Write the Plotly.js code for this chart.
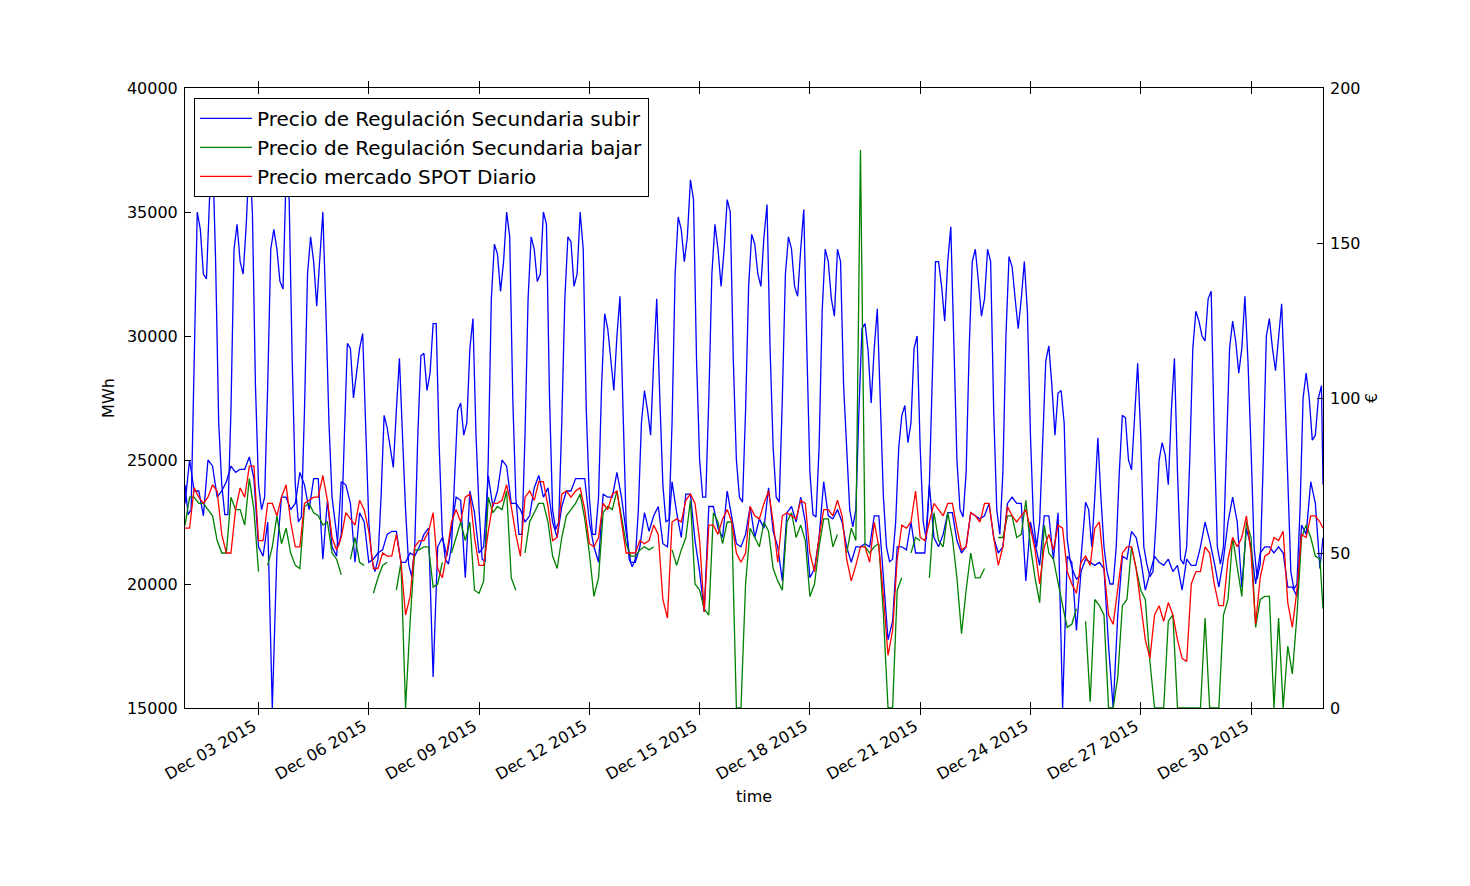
<!DOCTYPE html>
<html>
<head>
<meta charset="utf-8">
<script src="https://cdn.plot.ly/plotly-3.0.1.min.js"></script>
<style>
html,body{margin:0;padding:0;background:#ffffff;}
#chart{width:1470px;height:886px;}
</style>
</head>
<body>
<div id="chart"></div>
<script>
// ---- DATA ----
// Demand, left axis (MWh), every 2 hours from 2015-12-01 00:00, one row per day, plus a last value at 2015-12-31 23:00
const demandMWh = [
 24000,22800,23000,29000,35000,34300,32500,32300,35500,37500,33000,26500, // Dec 01
 24000,22800,22800,27000,33500,34500,33000,32500,34500,37300,35000,28000, // Dec 02
 24000,23000,23500,28000,33500,34300,33500,32200,31900,36500,35500,29000, // Dec 03
 24000,22500,22700,27000,32500,34000,33000,31200,33000,35000,31000,26500, // Dec 04
 23500,22500,21500,22000,25500,29700,29500,27500,28500,29500,30100,26000, // Dec 05
 22500,21000,20500,21000,23500,26800,26300,25500,24700,27000,29100,26000, // Dec 06
 23000,20800,20300,21500,26000,29200,29300,27800,28500,30500,30500,25500, // Dec 07
 22000,21000,20800,21500,24000,27000,27300,26000,26500,29500,30700,26000, // Dec 08
 23000,21000,20900,25000,31500,33700,33300,31800,33000,35000,34000,27500, // Dec 09
 23500,22000,22000,26000,31500,34000,33500,32200,32500,35000,34500,27500, // Dec 10
 23000,22200,22500,26500,31500,34000,33800,32000,32500,35000,33500,27000, // Dec 11
 23500,22000,22000,23500,28000,30900,30300,29000,27800,30000,31600,27000, // Dec 12
 22500,21000,20700,21000,23000,26500,27800,27000,26000,29000,31500,27500, // Dec 13
 24000,22500,22600,26500,32500,34800,34300,33000,34000,36300,35500,29000, // Dec 14
 25000,23500,23500,27500,32500,34500,33500,32000,33500,35500,35000,29000, // Dec 15
 25000,23500,23300,27000,32000,34100,33700,32500,32000,34000,35300,29500, // Dec 16
 25500,23500,23300,27500,32500,34000,33500,32000,31600,33500,35100,29500, // Dec 17
 24500,22800,22700,25500,31000,33500,33000,31500,30800,33500,33000,28000, // Dec 18
 25500,23000,22300,23000,27000,30300,30500,29400,27300,29500,31100,27000, // Dec 19
 23500,21500,20900,21000,22500,25500,26800,27200,25700,26500,29500,30000, // Dec 20
 25500,22500,21800,24000,29000,33000,33000,32000,30600,33000,34400,30000, // Dec 21
 25000,23000,22700,24500,29500,33000,33500,32200,30800,31500,33500,33000, // Dec 22
 27000,23000,22000,24500,30000,33200,32800,31500,30300,31500,33000,31000, // Dec 23
 26000,22500,21500,22500,26000,29000,29600,28000,26000,27700,27800,26500, // Dec 24
 21800,20900,20500,20200,20300,21800,23300,23000,21500,23500,25900,23500, // Dec 25
 21500,20500,20000,20000,21500,24500,26800,26700,25000,24600,27000,28900, // Dec 26
 26000,21500,20800,20300,20500,22500,25000,25700,25200,24000,27000,29100, // Dec 27
 24500,21000,20800,21500,25000,29500,31000,30600,30000,29800,31500,31800, // Dec 28
 26000,21500,20800,21500,25500,29500,30600,29800,28500,29500,31600,29000, // Dec 29
 25500,21500,20200,20800,25000,30000,30700,29500,28600,30000,31300,28000, // Dec 30
 24000,20500,19800,20000,23000,27500,28500,27500,25800,26000,27500,28000, // Dec 31
 24000
];

// Prices, right axis (€), every 3 hours from 2015-12-01 00:00, one row per day, plus a last value at 2015-12-31 23:00
const precioSubir = [
 66,80,70,70,62,80,78,68,  70,73,78,76,77,77,81,74,  52,49,60,0,50,68,68,64,   66,76,72,64,74,74,48,67,
 52,49,73,72,66,47,63,60,  47,48,50,51,56,57,57,47,  47,50,49,52,56,58,10,52,  55,49,58,68,67,42,70,63,
 50,52,75,65,70,80,78,66,  66,64,60,62,71,75,68,71,  60,55,65,70,70,74,74,74,  60,52,47,69,68,68,76,68,
 57,47,47,52,63,57,62,65,  53,52,73,63,55,69,69,54,  44,31,65,65,58,55,70,62,  53,52,56,65,55,61,58,71,
 57,52,41,63,65,60,68,60,  42,45,55,73,62,61,64,60,  52,47,52,52,53,52,62,62,  42,22,28,52,52,51,60,50,
 50,50,72,55,52,56,63,63,  54,50,52,63,62,61,62,66,  55,50,52,66,68,66,66,41,  60,53,46,62,62,48,63,0,
 49,47,25,44,48,47,46,47,  45,20,0,30,49,48,57,55,   48,38,44,49,47,46,48,44,  46,38,48,46,46,52,60,54,
 47,39,48,60,68,60,39,58,  52,40,50,52,52,50,52,50,  39,39,36,59,56,73,66,45,
 55
];
const precioBajar = [
 59,68,68,66,66,64,62,54,  50,50,68,64,64,59,74,64,  44,null,46,52,62,53,58,50,  46,45,65,66,63,62,59,60,
 50,48,43,null,48,55,47,46,  null,37,42,46,47,null,38,47,  0,28,51,51,52,52,39,40,  47,null,50,55,60,54,60,38,
 37,41,68,63,65,64,70,42,  38,null,50,60,63,66,66,60,  49,45,55,62,64,66,69,61,  50,36,42,63,65,64,70,61,
 53,49,49,51,52,51,52,null,  null,null,51,46,51,55,67,40,  38,32,30,63,60,53,60,60,  0,0,40,58,55,52,60,57,
 45,41,38,60,63,55,59,54,  36,40,52,61,61,52,56,null,  50,58,54,180,52,50,52,53,  30,0,0,38,42,null,50,55,
 54,null,42,63,54,52,63,55,  42,24,38,50,42,42,45,null,  null,55,55,62,62,55,56,67,  52,42,34,59,50,48,40,33,
 26,27,32,null,28,2,35,33,  30,0,0,10,33,35,52,45,  38,35,15,0,0,0,28,30,  0,0,0,0,0,0,29,0,
 0,0,30,35,55,45,36,60,  55,26,35,36,36,0,29,0,  20,11,30,55,59,55,49,48,
 32
];
const precioSpot = [
 58,58,71,68,66,68,72,70,  56,50,50,64,71,68,78,78,  54,54,66,66,62,68,72,60,  52,52,66,67,68,68,75,67,
 55,51,55,63,61,59,67,64,  57,45,45,50,49,49,56,47,  30,36,52,54,54,57,63,45,  42,50,60,64,60,68,69,55,
 46,46,57,66,66,67,72,65,  56,49,68,70,67,73,73,65,  54,55,69,70,68,70,71,64,  53,52,55,66,64,69,70,60,
 50,50,50,54,53,54,59,56,  35,29,60,61,60,67,69,66,  54,31,59,59,56,61,64,60,  50,47,50,65,62,61,66,70,
 60,47,62,63,62,61,67,66,  50,44,55,64,64,62,67,62,  48,41,46,52,52,47,60,52,  36,17,25,48,59,58,60,70,
 55,54,60,66,64,62,66,66,  58,51,52,63,62,60,66,66,  55,46,52,65,62,60,62,64,  58,51,40,52,56,51,59,58,
 44,40,37,47,49,46,58,60,  45,30,27,38,50,52,52,45,  33,22,16,30,33,28,34,30,  22,16,15,40,44,44,52,50,
 40,33,33,48,55,52,55,62,  50,27,42,49,50,55,54,57,  34,26,38,56,55,62,62,60,
 58
];

const seriesNames = [
 'Precio de Regulación Secundaria subir',
 'Precio de Regulación Secundaria bajar',
 'Precio mercado SPOT Diario'
];
const firstStamp = '2015-12-01 00:00';
const lastStamp = '2015-12-31 23:00';
const firstTick = '2015-12-03';

// ---- build time stamps for the sampled series ----
function stamps(count, stepHours) {
  const t0 = Date.UTC(2015, 11, 1, 0, 0);
  const out = [];
  for (let i = 0; i < count - 1; i++) {
    const d = new Date(t0 + i * stepHours * 3600000);
    out.push(d.toISOString().slice(0, 16).replace('T', ' '));
  }
  out.push(lastStamp);
  return out;
}
const tDemand = stamps(demandMWh.length, 2);
const tPrice = stamps(precioSpot.length, 3);

const lw = 1.3;
const traces = [
  {x: tDemand, y: demandMWh, type: 'scatter', mode: 'lines', yaxis: 'y',
   line: {color: '#0000ff', width: lw}, showlegend: false, hoverinfo: 'skip'},
  {x: tPrice, y: precioSubir, type: 'scatter', mode: 'lines', yaxis: 'y2', name: seriesNames[0],
   line: {color: '#0000ff', width: lw}, connectgaps: false},
  {x: tPrice, y: precioBajar, type: 'scatter', mode: 'lines', yaxis: 'y2', name: seriesNames[1],
   line: {color: '#008000', width: lw}, connectgaps: false},
  {x: tPrice, y: precioSpot, type: 'scatter', mode: 'lines', yaxis: 'y2', name: seriesNames[2],
   line: {color: '#ff0000', width: lw}, connectgaps: false}
];

const layout = {
  width: 1470, height: 886,
  margin: {l: 185, r: 147, t: 88, b: 178, pad: 0},
  paper_bgcolor: '#ffffff', plot_bgcolor: '#ffffff',
  font: {family: 'DejaVu Sans, sans-serif', size: 16, color: '#000000'},
  showlegend: true,
  hovermode: false,
  legend: {
    x: 0.0079, y: 0.984, xanchor: 'left', yanchor: 'top',
    bgcolor: '#ffffff', bordercolor: '#000000', borderwidth: 1,
    font: {family: 'DejaVu Sans, sans-serif', size: 20, color: '#000000'},
    traceorder: 'normal', itemwidth: 52
  },
  xaxis: {
    type: 'date', range: [firstStamp, lastStamp],
    tickmode: 'linear', tick0: firstTick, dtick: 3 * 86400000,
    tickformat: '%b %d %Y', tickangle: -30,
    ticks: 'inside', ticklen: 6, tickcolor: '#000000', tickwidth: 1,
    showline: true, linecolor: '#000000', linewidth: 1, mirror: 'allticks',
    showgrid: false, zeroline: false,
    tickfont: {size: 16}, ticklabelshift: -5, ticklabelstandoff: 2,
    title: {text: 'time', font: {size: 16}, standoff: 8}
  },
  yaxis: {
    range: [15000, 40000], tickmode: 'linear', tick0: 15000, dtick: 5000, tickformat: 'd',
    ticks: 'inside', ticklen: 6, tickcolor: '#000000',
    showline: true, linecolor: '#000000', linewidth: 1, mirror: true,
    showgrid: false, zeroline: false,
    tickfont: {size: 16}, ticklabelstandoff: 3,
    title: {text: 'MWh', font: {size: 16}, standoff: 8}
  },
  yaxis2: {
    overlaying: 'y', side: 'right',
    range: [0, 200], tickmode: 'linear', tick0: 0, dtick: 50,
    ticks: 'inside', ticklen: 6, tickcolor: '#000000',
    showline: false, showgrid: false, zeroline: false,
    tickfont: {size: 16}, ticklabelstandoff: 6,
    title: {text: '€', font: {size: 16}, standoff: 6}
  }
};

Plotly.newPlot('chart', traces, layout, {displayModeBar: false, staticPlot: true});
</script>
</body>
</html>
